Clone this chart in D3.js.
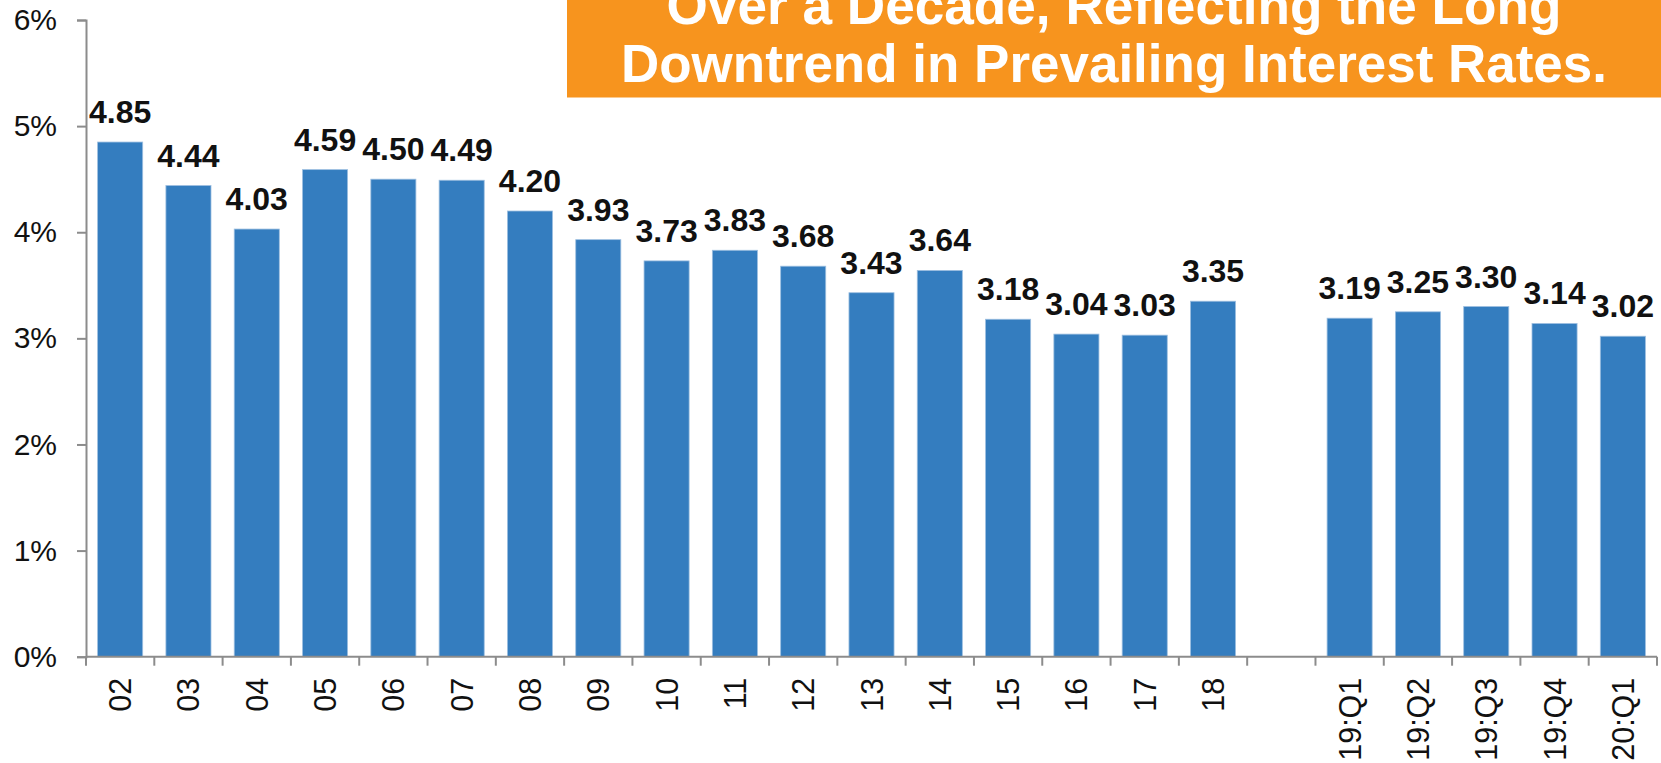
<!DOCTYPE html>
<html>
<head>
<meta charset="utf-8">
<script src="https://cdn.jsdelivr.net/npm/d3@7"></script>
<style>
  html, body { margin: 0; padding: 0; background: #fff; }
  svg { display: block; font-family: "Liberation Sans", Arial, sans-serif; }
</style>
</head>
<body>
<div id="chart"></div>
<script>
// categories along the x axis; the blank one is the gap between years and quarters
const categories = ["02","03","04","05","06","07","08","09","10","11","12","13","14","15","16","17","18"," ","19:Q1","19:Q2","19:Q3","19:Q4","20:Q1"];
// values in percent, null = no bar
const values = [4.85,4.44,4.03,4.59,4.50,4.49,4.20,3.93,3.73,3.83,3.68,3.43,3.64,3.18,3.04,3.03,3.35,null,3.19,3.25,3.30,3.14,3.02];
const yTicks = [0,1,2,3,4,5,6];
const titleLines = ["Over a Decade, Reflecting the Long", "Downtrend in Prevailing Interest Rates."];

const W = 1661, H = 763;
const margin = {top: 20, right: 4, bottom: 106.3, left: 86};
const width = W - margin.left - margin.right;
const height = H - margin.top - margin.bottom;
const axisColor = "#8c8c8c";

const data = categories.map((c, i) => ({cat: c, value: values[i]}));

const svg = d3.select("#chart").append("svg")
    .attr("width", W)
    .attr("height", H);

const g = svg.append("g")
    .attr("transform", "translate(" + margin.left + "," + margin.top + ")");

const x = d3.scaleBand()
    .domain(categories)
    .range([0, width])
    .paddingInner(0.34)
    .paddingOuter(0.17);

const y = d3.scaleLinear()
    .domain([0, 6])
    .range([height, 0]);

// bars
g.selectAll(".bar")
    .data(data.filter(d => d.value !== null))
    .join("rect")
    .attr("class", "bar")
    .attr("x", d => x(d.cat))
    .attr("y", d => y(d.value))
    .attr("width", x.bandwidth())
    .attr("height", d => height - y(d.value))
    .attr("fill", "#347dbf")
    .attr("stroke", "#9dbfe0")
    .attr("stroke-width", 0.8);

// value labels
g.selectAll(".val")
    .data(data.filter(d => d.value !== null))
    .join("text")
    .attr("class", "val")
    .attr("x", d => x(d.cat) + x.bandwidth() / 2)
    .attr("y", d => y(d.value) - 19)
    .attr("text-anchor", "middle")
    .attr("font-size", 32)
    .attr("font-weight", "bold")
    .attr("fill", "#111")
    .text(d => d.value.toFixed(2));

// y axis
const yAxis = g.append("g")
    .call(d3.axisLeft(y).tickValues(yTicks).tickSize(9).tickPadding(20).tickFormat(d => d + "%"));
yAxis.select(".domain").attr("stroke", axisColor).attr("stroke-width", 2);
yAxis.selectAll(".tick line").attr("stroke", axisColor).attr("stroke-width", 2);
yAxis.selectAll(".tick text")
    .attr("font-size", 30)
    .attr("fill", "#111")
    .attr("font-family", "'Liberation Sans', Arial, sans-serif");

// x axis: line plus ticks at the category boundaries
const xAxis = g.append("g").attr("transform", "translate(0," + height + ")");
xAxis.append("line")
    .attr("x1", 0).attr("x2", width)
    .attr("stroke", axisColor).attr("stroke-width", 2);
const boundaries = categories.map(c => x(c) - x.step() * x.paddingInner() / 2).concat([width]);
xAxis.selectAll(".xtick")
    .data(boundaries)
    .join("line")
    .attr("class", "xtick")
    .attr("x1", d => d).attr("x2", d => d)
    .attr("y1", 0).attr("y2", 9)
    .attr("stroke", axisColor).attr("stroke-width", 2);
xAxis.selectAll(".xlabel")
    .data(categories)
    .join("text")
    .attr("class", "xlabel")
    .attr("transform", d => "translate(" + (x(d) + x.bandwidth() / 2) + ",21) rotate(-90)")
    .attr("text-anchor", "end")
    .attr("dominant-baseline", "central")
    .attr("font-size", 30.5)
    .attr("fill", "#111")
    .text(d => d);

// orange title box in the upper right
const boxX = 567, boxH = 97.5;
svg.append("rect")
    .attr("x", boxX).attr("y", 0)
    .attr("width", W - boxX).attr("height", boxH)
    .attr("fill", "#f7941e");
const titleLens = [895, 986];
svg.selectAll(".title")
    .data(titleLines)
    .join("text")
    .attr("class", "title")
    .attr("x", (boxX + W) / 2)
    .attr("y", (d, i) => 24 + i * 57.5)
    .attr("text-anchor", "middle")
    .attr("font-size", 53)
    .attr("font-weight", "bold")
    .attr("fill", "#fff")
    .attr("textLength", (d, i) => titleLens[i])
    .attr("lengthAdjust", "spacingAndGlyphs")
    .text(d => d);
</script>
</body>
</html>
